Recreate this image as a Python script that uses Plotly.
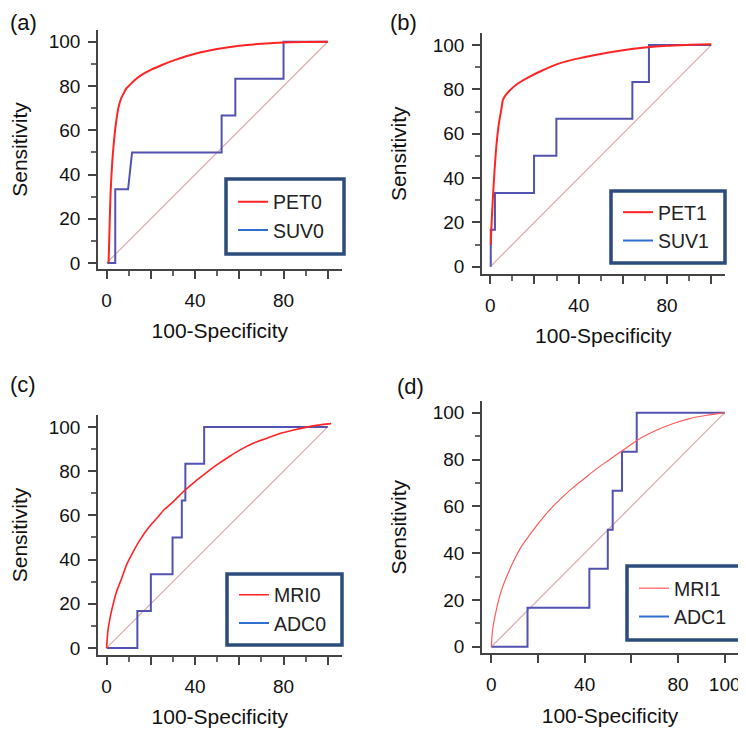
import plotly.graph_objects as go

# The page body has an 8 px default margin, so the figure is drawn 8 px in
# from the window's top-left corner; all layout pixel positions below are
# given in window pixels and converted with that offset.
WIN_W, WIN_H = 746, 731
OFF = 8
W, H = WIN_W - OFF, WIN_H - OFF

# ---------------- data ----------------
diag_x = [0, 100]
diag_y = [0, 100]

# (a)
pet0_x = [0.9, 1.35, 1.8, 2.5, 3.3, 4.2, 5.3, 6.6, 7.9, 9.0, 10.5, 12, 15.8, 20, 25, 31, 40, 50, 60, 70, 80, 90, 100]
pet0_y = [0.3, 17, 32, 45, 54.8, 63, 70, 74.5, 77, 79, 80.5, 82, 85, 87.3, 89.5, 91.8, 94.6, 96.7, 98.2, 99.1, 99.7, 99.9, 100]
suv0_x = [0.3, 3.9, 3.9, 9.7, 11.5, 52, 52, 58.2, 58.2, 80, 80, 100]
suv0_y = [0, 0, 33.3, 33.3, 50, 50, 66.7, 66.7, 83.3, 83.3, 100, 100]

# (b)
pet1_x = [0.2, 0.6, 1.2, 1.9, 2.7, 3.8, 5.0, 5.7, 7.0, 8.8, 12, 17, 23, 30.6, 40, 50, 60, 70, 80, 90, 100]
pet1_y = [9.8, 20, 31.6, 43, 54, 64, 71, 75.2, 77.5, 79.5, 82.3, 85.3, 88.3, 91.5, 94, 96, 97.7, 98.9, 99.7, 100.1, 100.4]
suv1_x = [0.2, 0.2, 2.1, 2.1, 19.8, 19.8, 29.9, 29.9, 64.3, 64.3, 71.8, 71.8, 100]
suv1_y = [0, 16.7, 16.7, 33.3, 33.3, 50, 50, 66.7, 66.7, 83.3, 83.3, 100, 100]

# (c)
mri0_x = [0, 0.5, 1.5, 3, 4.5, 7, 9, 12, 15.1, 19, 22.7, 26, 30.2, 35, 40, 45, 49.8, 55, 60.4, 66, 72.5, 78, 84.6, 90, 95, 101.5]
mri0_y = [0, 7, 13.4, 20, 25.5, 32, 37.6, 43.5, 48.9, 54.5, 58.7, 62.5, 66.2, 71, 75.3, 79.2, 82.8, 86.3, 89.6, 92.5, 94.9, 96.9, 98.6, 99.8, 100.7, 101.5]
adc0_x = [0, 13.9, 13.9, 20, 20, 29.8, 29.8, 34, 34, 35.6, 35.6, 44.1, 44.1, 100]
adc0_y = [0, 0, 16.7, 16.7, 33.3, 33.3, 50, 50, 66.7, 66.7, 83.3, 83.3, 100, 100]

# (d)
mri1_x = [0, 0.3, 1.1, 2.2, 3.3, 5, 7, 10, 13, 16.2, 20, 25, 30, 35, 40, 45, 50, 55, 60, 63.7, 70, 77.7, 85, 92.3, 100]
mri1_y = [0, 5, 10.7, 16, 20.7, 26, 31, 37.5, 43, 47.5, 52.5, 58.5, 63.5, 68, 72, 76, 79.5, 83, 86.5, 89, 92.2, 95.3, 97.5, 98.9, 100]
adc1_x = [0, 15.5, 15.5, 42, 42, 49.9, 49.9, 52, 52, 56, 56, 62.3, 62.3, 100]
adc1_y = [0, 0, 16.7, 16.7, 33.3, 33.3, 50, 50, 66.7, 66.7, 83.3, 83.3, 100, 100]

tick_vals = [0, 20, 40, 60, 80, 100]
minor_vals = [10, 30, 50, 70, 90]
y_text = ["0", "20", "40", "60", "80", "100"]
x_text_abc = ["0", "", "40", "", "80", ""]
x_text_d = ["0", "", "40", "", "80", "100"]

panel_labels = ["(a)", "(b)", "(c)", "(d)"]

# ---------------- styling ----------------
FONT = "Liberation Sans, Arial, sans-serif"
RED = "#ff2424"
STEP = "#5252b0"
LEGBLUE = "#2e6fd0"
DIAG = "#dcaaaa"
AXC = "#444444"
BOXC = "#2c4c7c"

def px(x):
    return (x - OFF) / W

def py(y):
    return 1 - (y - OFF) / H

def xdom(a, b):
    return [px(a), px(b)]

def ydom(top, bot):
    return [py(bot), py(top)]

panels = [
    dict(sfx="", leg="legend", xd=xdom(98, 341.7), yd=ydom(30, 269), xr=[-3.9, 106.3], yr=[-2.7, 105.3],
         red=(pet0_x, pet0_y, "PET0", 2.0, RED), blue=(suv0_x, suv0_y, "SUV0"), xt=x_text_abc, xminor=True,
         box=(226, 179, 344, 254)),
    dict(sfx="2", leg="legend2", xd=xdom(482, 724.7), yd=ydom(33.3, 274), xr=[-3.76, 106.1], yr=[-3.3, 105.3],
         red=(pet1_x, pet1_y, "PET1", 2.0, RED), blue=(suv1_x, suv1_y, "SUV1"), xt=x_text_abc, xminor=True,
         box=(611, 191, 725, 263)),
    dict(sfx="3", leg="legend3", xd=xdom(98, 341.7), yd=ydom(415, 655), xr=[-3.9, 106.3], yr=[-3.2, 105.4],
         red=(mri0_x, mri0_y, "MRI0", 1.6, RED), blue=(adc0_x, adc0_y, "ADC0"), xt=x_text_abc, xminor=True,
         box=(227, 574, 342, 645)),
    dict(sfx="4", leg="legend4", xd=xdom(482, 738), yd=ydom(401, 653.3), xr=[-4.0, 105.7], yr=[-2.8, 105.0],
         red=(mri1_x, mri1_y, "MRI1", 1.2, "#ff5a5a"), blue=(adc1_x, adc1_y, "ADC1"), xt=x_text_d, xminor=False,
         box=(627, 566, 744, 640)),
]

fig = go.Figure()
layout = dict(
    template="none",
    width=W, height=H, margin=dict(l=0, r=0, t=0, b=0, pad=0),
    paper_bgcolor="white", plot_bgcolor="white",
    font=dict(family=FONT, color="#111111"),
    showlegend=True,
    annotations=[],
    shapes=[],
)

for p in panels:
    xa = "x" + p["sfx"]
    ya = "y" + p["sfx"]
    fig.add_trace(go.Scatter(x=diag_x, y=diag_y, mode="lines", line=dict(color=DIAG, width=1.2),
                             xaxis=xa, yaxis=ya, showlegend=False, hoverinfo="skip"))
    bx, by, bname = p["blue"]
    fig.add_trace(go.Scatter(x=bx, y=by, mode="lines", line=dict(color=STEP, width=2),
                             xaxis=xa, yaxis=ya, showlegend=False, name=bname))
    rx, ry, rname, rw, rc = p["red"]
    fig.add_trace(go.Scatter(x=rx, y=ry, mode="lines", line=dict(color=rc, width=rw, shape="spline", smoothing=0.6),
                             xaxis=xa, yaxis=ya, name=rname, legend=p["leg"], legendrank=1))
    fig.add_trace(go.Scatter(x=[None], y=[None], mode="lines", line=dict(color=LEGBLUE, width=2),
                             xaxis=xa, yaxis=ya, name=bname, legend=p["leg"], legendrank=2))

    common_tick = dict(ticks="outside", ticklen=8, tickwidth=2, tickcolor=AXC, automargin=False,
                       showline=True, linecolor=AXC, linewidth=1.6, showgrid=False, zeroline=False,
                       tickfont=dict(size=19, family=FONT, color="#111111"))
    xminor = dict(tickvals=minor_vals, ticks="outside", ticklen=5, tickwidth=1.5, tickcolor="#666666") if p["xminor"] else dict(ticks="")
    layout["xaxis" + p["sfx"]] = dict(
        domain=p["xd"], range=p["xr"], anchor=ya, tickmode="array", tickvals=tick_vals, ticktext=p["xt"],
        ticklabelstandoff=5, minor=xminor,
        title=dict(text="100-Specificity", font=dict(size=21, family=FONT, color="#111111"), standoff=14),
        **common_tick)
    layout["yaxis" + p["sfx"]] = dict(
        domain=p["yd"], range=p["yr"], anchor=xa, tickmode="array", tickvals=tick_vals, ticktext=y_text,
        ticklabelstandoff=4,
        minor=dict(tickvals=minor_vals, ticks="outside", ticklen=5, tickwidth=1.5, tickcolor="#666666"),
        title=dict(text="Sensitivity", font=dict(size=21, family=FONT, color="#111111"), standoff=20),
        **common_tick)
    x0, y0, x1, y1 = p["box"]
    layout["shapes"].append(dict(type="rect", xref="paper", yref="paper",
                                 x0=px(x0), x1=px(x1), y0=py(y1), y1=py(y0),
                                 line=dict(color=BOXC, width=3.5), fillcolor="white", layer="above"))
    cy = (y0 + y1) / 2
    layout[p["leg"]] = dict(x=px(x0 + 7), y=py(cy - 34), xanchor="left", yanchor="top",
                            bgcolor="rgba(0,0,0,0)", borderwidth=0,
                            font=dict(size=19.5, family=FONT, color="#222222"),
                            tracegroupgap=0, itemwidth=30)

# (x, y, yanchor) of each panel letter, in window pixels
label_pos = [(8, 8, "top"), (388, 8, "top"), (8, 384, "middle"), (395, 386, "middle")]
for t, (lx, ly, ya_) in zip(panel_labels, label_pos):
    layout["annotations"].append(dict(text=t, x=px(lx), y=py(ly), xref="paper", yref="paper",
                                      xanchor="left", yanchor=ya_, showarrow=False,
                                      font=dict(size=22, family=FONT, color="#111111")))

fig.update_layout(**layout)
fig.write_html("out.html")
